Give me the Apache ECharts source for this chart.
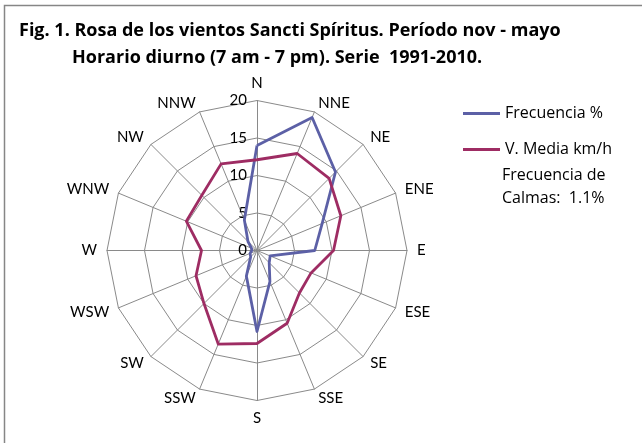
<!DOCTYPE html>
<html><head><meta charset="utf-8">
<script src="https://cdn.jsdelivr.net/npm/echarts@6/dist/echarts.min.js"></script>
<style>html,body{margin:0;padding:0;background:#fff}#c{width:642px;height:443px}</style>
</head><body><div id="c"></div>
<script>
const directions = ['N','NNE','NE','ENE','E','ESE','SE','SSE','S','SSW','SW','WSW','W','WNW','NW','NNW'];
const frecuencia = [14.0,19.2,14.8,9.4,7.7,1.9,2.3,4.5,10.8,3.7,1.2,1.0,0.7,0.8,1.7,4.4];
const velocidad  = [12.1,14.0,13.6,12.1,10.2,7.8,8.0,10.5,12.4,13.5,10.0,8.8,7.4,10.2,10.4,12.5];
const radialTicks = [0,5,10,15,20];
const seriesNames = ['Frecuencia %','V. Media km/h'];
const titleLine1 = 'Fig. 1. Rosa de los vientos Sancti Spíritus. Período nov - mayo';
const titleLine2 = 'Horario diurno (7 am - 7 pm). Serie  1991-2010.';
const noteLines = ['Frecuencia de','Calmas:  1.1%'];

const FONT = 'Lato, "Open Sans", sans-serif';
const FONT2 = '"Open Sans", Lato, sans-serif';
// radar draws indicators counter-clockwise; reorder so that directions run clockwise
const order = directions.map((_, i) => (directions.length - i) % directions.length);
const indicators = order.map((k, i) => {
  const ind = { name: directions[k], min: radialTicks[0], max: radialTicks[radialTicks.length - 1] };
  if (i === 0) ind.axisLabel = { show: true, color: '#000', fontSize: 15, fontFamily: FONT, margin: 10 };
  return ind;
});
const reord = arr => order.map(k => arr[k]);

const chart = echarts.init(document.getElementById('c'), null, { renderer: 'canvas' });
chart.setOption({
  backgroundColor: '#fff',
  animation: false,
  title: [
    { text: titleLine1, left: 19, top: 22, padding: 0, textStyle: { fontFamily: FONT2, fontSize: 18, fontWeight: 'bold', color: '#000' } },
    { text: titleLine2, left: 72, top: 49, padding: 0, textStyle: { fontFamily: FONT2, fontSize: 18, fontWeight: 'bold', color: '#000' } }
  ],
  legend: {
    orient: 'vertical', left: 463, top: 105, padding: 0, itemWidth: 37, itemHeight: 3, itemGap: 19,
    icon: 'rect',
    data: seriesNames,
    textStyle: { fontFamily: FONT2, fontSize: 16, color: '#000', lineHeight: 17 }
  },
  radar: {
    center: [257, 250.5], radius: 150, startAngle: 90, shape: 'polygon',
    splitNumber: radialTicks.length - 1,
    indicator: indicators,
    nameGap: 10,
    axisName: { color: '#000', fontSize: 15, fontFamily: FONT },
    axisLine: { lineStyle: { color: '#8a8a8a', width: 1 } },
    splitLine: { lineStyle: { color: '#8a8a8a', width: 1 } },
    splitArea: { show: false },
    axisLabel: { show: false },
    axisTick: { show: false }
  },
  series: [{
    type: 'radar', symbol: 'none',
    data: [
      { name: seriesNames[0], value: reord(frecuencia), lineStyle: { color: '#5C60A6', width: 2.8 }, itemStyle: { color: '#5C60A6' } },
      { name: seriesNames[1], value: reord(velocidad), lineStyle: { color: '#9E2C63', width: 2.8 }, itemStyle: { color: '#9E2C63' } }
    ]
  }],
  graphic: [
    { type: 'rect', shape: { x: 4.5, y: 5.5, width: 800, height: 600 }, style: { fill: 'none', stroke: '#868686', lineWidth: 1.5 }, z: -1 },
    { type: 'text', left: 502, top: 167, style: { text: noteLines[0], font: '16px ' + FONT2, fill: '#000' } },
    { type: 'text', left: 502, top: 190, style: { text: noteLines[1], font: '16px ' + FONT2, fill: '#000' } }
  ]
});
</script></body></html>
